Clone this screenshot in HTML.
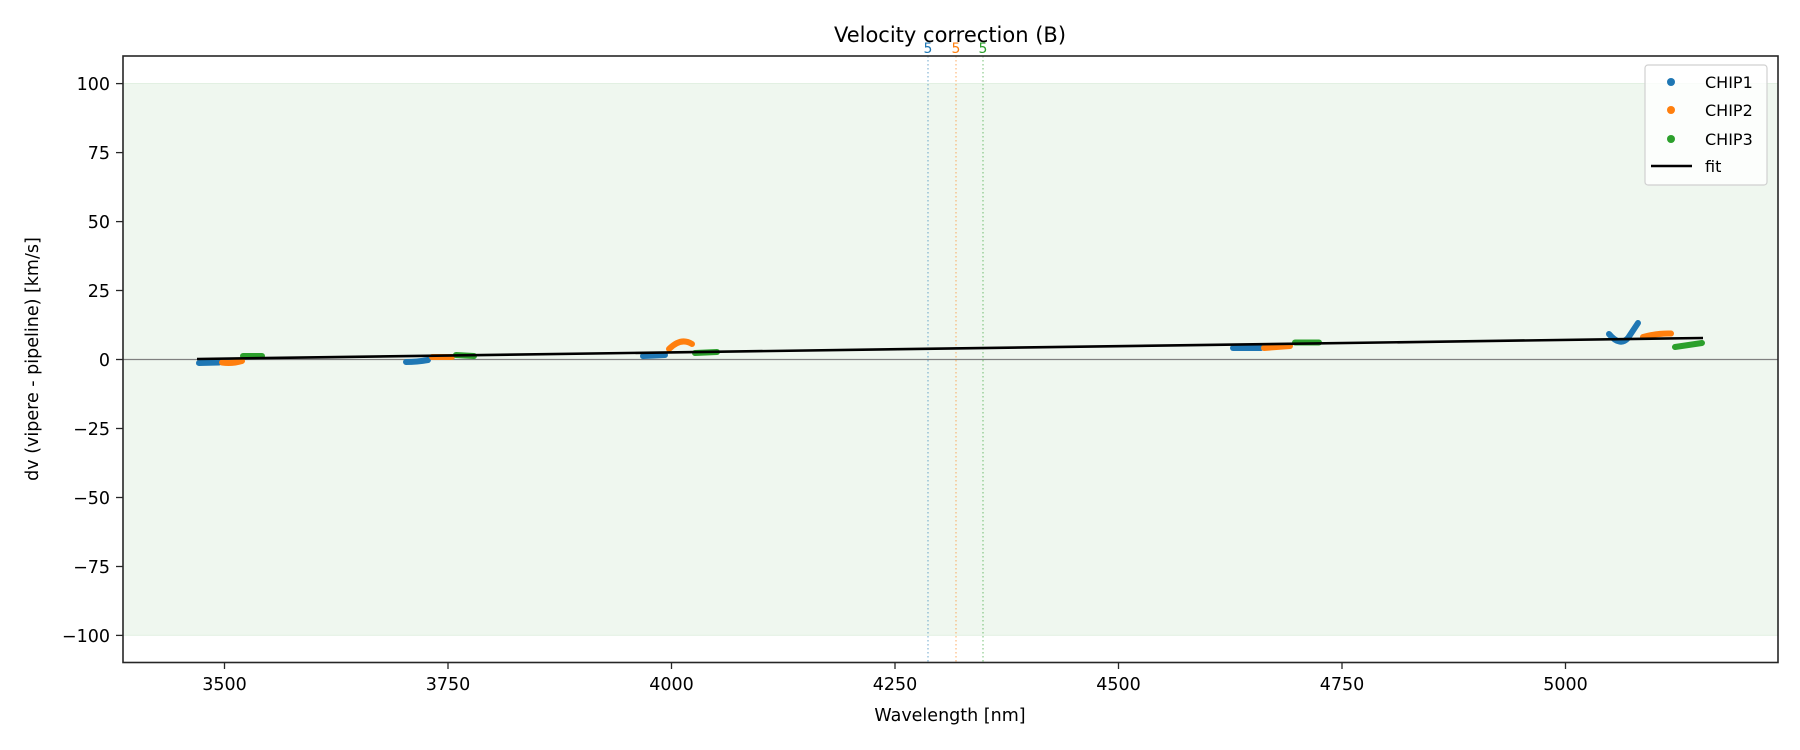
<!DOCTYPE html>
<html><head><meta charset="utf-8"><style>
html,body{margin:0;padding:0;background:#fff;}
svg{display:block;font-family:"DejaVu Sans","Liberation Sans",sans-serif;}
</style></head><body>
<svg width="1800" height="750" viewBox="0 0 1800 750" xmlns="http://www.w3.org/2000/svg">
<rect width="1800" height="750" fill="#fff"/>
<rect x="123" y="83.5" width="1655" height="551.8" fill="#eff7ef" stroke="#e2f0e2" stroke-width="1"/>
<line x1="123" y1="359.5" x2="1778" y2="359.5" stroke="#808080" stroke-width="1.3"/>
<line x1="928" y1="56" x2="928" y2="662" stroke="#1f77b4" stroke-opacity="0.5" stroke-width="1.3" stroke-dasharray="1.5,2.5"/>
<line x1="956" y1="56" x2="956" y2="662" stroke="#ff7f0e" stroke-opacity="0.5" stroke-width="1.3" stroke-dasharray="1.5,2.5"/>
<line x1="983" y1="56" x2="983" y2="662" stroke="#2ca02c" stroke-opacity="0.5" stroke-width="1.3" stroke-dasharray="1.5,2.5"/>
<g font-size="14" text-anchor="middle">
<text x="928" y="53" fill="#1f77b4">5</text>
<text x="956" y="53" fill="#ff7f0e">5</text>
<text x="983" y="53" fill="#2ca02c">5</text>
</g>
<g fill="none" stroke-width="6" stroke-linecap="round">
<path d="M199 363 L219 362.5" stroke="#1f77b4"/>
<path d="M222 362.5 Q232 364 242 361" stroke="#ff7f0e"/>
<path d="M243 356 L262 356" stroke="#2ca02c"/>
<path d="M406 362 Q417 362 428 360" stroke="#1f77b4"/>
<path d="M432 357 L452 357" stroke="#ff7f0e"/>
<path d="M456 355 L474 356" stroke="#2ca02c"/>
<path d="M643 356 L665 355" stroke="#1f77b4"/>
<path d="M669 349 Q681 337 692 344" stroke="#ff7f0e"/>
<path d="M695 353 L717 352" stroke="#2ca02c"/>
<path d="M1233 348 L1261 348" stroke="#1f77b4"/>
<path d="M1264 348 L1290 346" stroke="#ff7f0e"/>
<path d="M1295 342.5 L1319 342.5" stroke="#2ca02c"/>
<path d="M1609 334 Q1620 347 1628 338 L1638 323" stroke="#1f77b4"/>
<path d="M1643 337 Q1658 333 1671 333.5" stroke="#ff7f0e"/>
<path d="M1675 347 L1702 343" stroke="#2ca02c"/>
</g>
<line x1="197" y1="359" x2="1703" y2="338" stroke="#000" stroke-width="2.6"/>
<rect x="123" y="56" width="1655" height="606.5" fill="none" stroke="#262626" stroke-width="1.6"/>
<g stroke="#262626" stroke-width="1.3">
<line x1="116" y1="83.6" x2="123" y2="83.6"/><line x1="116" y1="152.6" x2="123" y2="152.6"/>
<line x1="116" y1="221.6" x2="123" y2="221.6"/><line x1="116" y1="290.5" x2="123" y2="290.5"/>
<line x1="116" y1="359.5" x2="123" y2="359.5"/><line x1="116" y1="428.5" x2="123" y2="428.5"/>
<line x1="116" y1="497.5" x2="123" y2="497.5"/><line x1="116" y1="566.5" x2="123" y2="566.5"/>
<line x1="116" y1="635.4" x2="123" y2="635.4"/>
</g>
<g font-size="17.5" text-anchor="end" fill="#000">
<text x="110" y="90">100</text><text x="110" y="159">75</text><text x="110" y="228">50</text>
<text x="110" y="297">25</text><text x="110" y="366">0</text><text x="110" y="435">−25</text>
<text x="110" y="504">−50</text><text x="110" y="573">−75</text><text x="110" y="642">−100</text>
</g>
<g stroke="#262626" stroke-width="1.3">
<line x1="224.5" y1="662" x2="224.5" y2="669"/><line x1="448" y1="662" x2="448" y2="669"/>
<line x1="671.5" y1="662" x2="671.5" y2="669"/><line x1="895" y1="662" x2="895" y2="669"/>
<line x1="1118.5" y1="662" x2="1118.5" y2="669"/><line x1="1342" y1="662" x2="1342" y2="669"/>
<line x1="1565.5" y1="662" x2="1565.5" y2="669"/>
</g>
<g font-size="17.5" text-anchor="middle" fill="#000">
<text x="224.5" y="690">3500</text><text x="448" y="690">3750</text><text x="671.5" y="690">4000</text>
<text x="895" y="690">4250</text><text x="1118.5" y="690">4500</text><text x="1342" y="690">4750</text>
<text x="1565.5" y="690">5000</text>
</g>
<text x="950" y="721" font-size="17.5" text-anchor="middle">Wavelength [nm]</text>
<text transform="translate(38,359) rotate(-90)" font-size="17.5" text-anchor="middle">dv (vipere - pipeline) [km/s]</text>
<text x="950" y="42" font-size="21" text-anchor="middle">Velocity correction (B)</text>
<rect x="1645" y="65" width="122" height="120" rx="3" fill="#fff" fill-opacity="0.8" stroke="#d0d0d0" stroke-width="1.2"/>
<circle cx="1671" cy="82" r="4" fill="#1f77b4"/>
<circle cx="1671" cy="110" r="4" fill="#ff7f0e"/>
<circle cx="1671" cy="139" r="4" fill="#2ca02c"/>
<line x1="1651" y1="166" x2="1692" y2="166" stroke="#000" stroke-width="2.6"/>
<g font-size="16" fill="#000">
<text x="1705" y="88">CHIP1</text><text x="1705" y="116">CHIP2</text>
<text x="1705" y="145">CHIP3</text><text x="1705" y="172">fit</text>
</g>
</svg>
</body></html>
